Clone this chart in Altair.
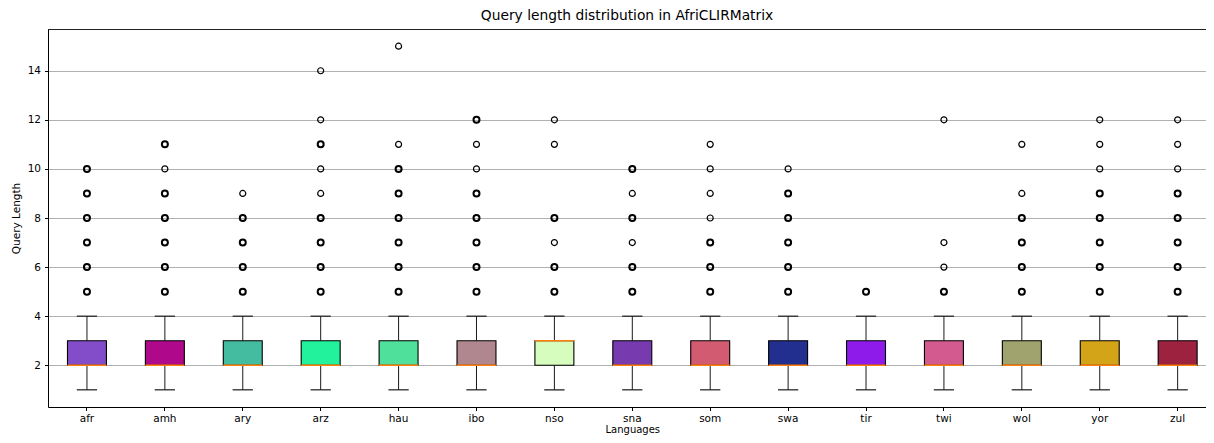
import altair as alt
import pandas as pd

langs = ["afr", "amh", "ary", "arz", "hau", "ibo", "nso", "sna", "som", "swa", "tir", "twi", "wol", "yor", "zul"]
whisker_low = [1, 1, 1, 1, 1, 1, 1, 1, 1, 1, 1, 1, 1, 1, 1]
q1 = [2, 2, 2, 2, 2, 2, 2, 2, 2, 2, 2, 2, 2, 2, 2]
median = [2, 2, 2, 2, 2, 2, 3, 2, 2, 2, 2, 2, 2, 2, 2]
q3 = [3, 3, 3, 3, 3, 3, 3, 3, 3, 3, 3, 3, 3, 3, 3]
whisker_high = [4, 4, 4, 4, 4, 4, 4, 4, 4, 4, 4, 4, 4, 4, 4]
box_colors = ["#834cc8", "#b0088a", "#44bc9f", "#22f29c", "#4fe09b", "#b0868f", "#d6fdbe",
              "#773baf", "#d25b72", "#222f8e", "#8f1beb", "#d25a8f", "#a1a36e", "#d4a418", "#9c223f"]

# outliers per language; "dense" = values drawn as many overlapping circles
outliers = {
    "afr": [5, 6, 7, 8, 9, 10],
    "amh": [5, 6, 7, 8, 9, 10, 11],
    "ary": [5, 6, 7, 8, 9],
    "arz": [5, 6, 7, 8, 9, 10, 11, 12, 14],
    "hau": [5, 6, 7, 8, 9, 10, 11, 15],
    "ibo": [5, 6, 7, 8, 9, 10, 11, 12],
    "nso": [5, 6, 7, 8, 11, 12],
    "sna": [5, 6, 7, 8, 9, 10],
    "som": [5, 6, 7, 8, 9, 10, 11],
    "swa": [5, 6, 7, 8, 9, 10],
    "tir": [5],
    "twi": [5, 6, 7, 12],
    "wol": [5, 6, 7, 8, 9, 11],
    "yor": [5, 6, 7, 8, 9, 10, 11, 12],
    "zul": [5, 6, 7, 8, 9, 10, 11, 12],
}
dense = {
    "afr": [5, 6, 7, 8, 9, 10],
    "amh": [5, 6, 7, 8, 9, 11],
    "ary": [5, 6, 7, 8],
    "arz": [5, 6, 7, 8, 11],
    "hau": [5, 6, 7, 8, 9, 10],
    "ibo": [5, 6, 7, 8, 9, 12],
    "nso": [5, 6, 8],
    "sna": [5, 6, 8, 10],
    "som": [5, 6, 7],
    "swa": [5, 6, 7, 8, 9],
    "tir": [5],
    "twi": [5],
    "wol": [5, 6, 7, 8],
    "yor": [5, 6, 7, 8, 9],
    "zul": [5, 6, 7, 8, 9],
}

box_df = pd.DataFrame({
    "lang": langs, "low": whisker_low, "q1": q1, "median": median,
    "q3": q3, "high": whisker_high,
})
out_rows = []
for lg in langs:
    for v in outliers[lg]:
        out_rows.append({"lang": lg, "value": v, "dense": "yes" if v in dense[lg] else "no"})
out_df = pd.DataFrame(out_rows)

W, H = 1158, 378
XR = 1168.6  # x range extends past the visible page edge, as in the reference
step = XR / len(langs)
FONT = "DejaVu Sans"

xscale = alt.Scale(domain=langs, paddingInner=0.5, paddingOuter=0.25, range=[0, XR])
xenc = alt.X("lang:N", sort=langs, title="Languages", scale=xscale,
             axis=alt.Axis(labelAngle=0, grid=False, tickSize=3.5, labelPadding=2.5,
                           titlePadding=1, titleFontSize=10))
yscale = alt.Scale(domain=[0.3, 15.7], nice=False, zero=False)
yaxis = alt.Axis(values=[2, 4, 6, 8, 10, 12, 14], grid=True, tickSize=3.5,
                 labelPadding=4, titlePadding=6, gridColor="#b0b0b0", gridWidth=1)

base = alt.Chart(box_df).encode(x=xenc)

grid_layer = base.mark_rule(opacity=0).encode(
    y=alt.Y("q1:Q", scale=yscale, axis=yaxis, title="Query Length"))

top_spine = base.mark_rule(color="#222222", strokeWidth=1).encode(
    y=alt.value(0.5), x=alt.value(0), x2=alt.value(W))

INK = "#1a1a1a"
w_low = base.mark_rule(color=INK, strokeWidth=1).encode(y="low:Q", y2="q1:Q")
w_high = base.mark_rule(color=INK, strokeWidth=1).encode(y="q3:Q", y2="high:Q")
cap_low = base.mark_tick(color=INK, size=step * 0.26, thickness=1.2, opacity=1).encode(y="low:Q")
cap_high = base.mark_tick(color=INK, size=step * 0.26, thickness=1.2, opacity=1).encode(y="high:Q")
boxes = base.mark_bar(stroke="black", strokeWidth=1.1, opacity=1).encode(
    y="q1:Q", y2="q3:Q",
    color=alt.Color("lang:N", scale=alt.Scale(domain=langs, range=box_colors), legend=None))
med = base.mark_tick(color="#ff7f0e", size=step * 0.5, thickness=1.3, opacity=1).encode(y="median:Q")

pts = alt.Chart(out_df).mark_point(shape="circle", filled=False, color="black", size=36,
                                   opacity=1).encode(
    x=alt.X("lang:N", sort=langs, scale=xscale),
    y=alt.Y("value:Q", scale=yscale),
    strokeWidth=alt.StrokeWidth("dense:N", scale=alt.Scale(domain=["no", "yes"], range=[1.2, 2.0]),
                                legend=None),
)

chart = alt.layer(grid_layer, top_spine, w_low, w_high, cap_low, cap_high, boxes, med, pts).properties(
    width=W, height=H,
    title=alt.Title("Query length distribution in AfriCLIRMatrix", font=FONT, fontSize=13.8,
                    fontWeight="normal", color="black", offset=6),
    autosize=alt.AutoSizeParams(type="none"),
    padding={"left": 40, "top": 21, "right": 0, "bottom": 28},
).configure_view(strokeWidth=0).configure_axis(
    labelFont=FONT, titleFont=FONT, labelFontSize=10.5, titleFontSize=10.5,
    labelColor="black", titleColor="black", titleFontWeight="normal",
    domainColor="black", tickColor="black", domainWidth=1, tickWidth=1,
).configure_title(anchor="middle")

chart.save("out.html", embed_options={"renderer": "svg", "actions": False})
